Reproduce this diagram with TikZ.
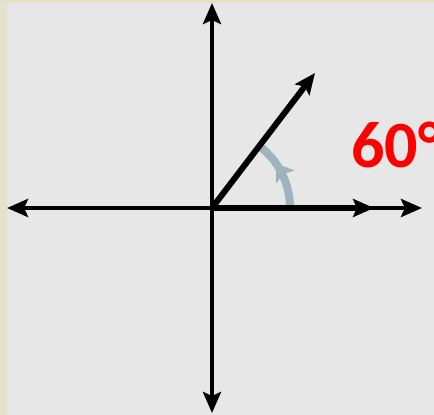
\documentclass[tikz,border=0pt]{standalone}
\usepackage{fontspec}
\setsansfont{Carlito}
\usepackage{xcolor}
\usetikzlibrary{arrows.meta,decorations.markings}
\definecolor{paper}{HTML}{E7E7E7}
\definecolor{rim}{HTML}{E4E0CB}
\definecolor{arcblue}{HTML}{9DB4BC}
\tikzset{
  axis/.style={line width=4.5pt, -{Stealth[length=21pt,width=18pt,inset=4pt]}},
  vec/.style={line width=6pt, -{Stealth[length=21pt,width=18pt,inset=4pt]}},
}

\begin{document}
\begin{tikzpicture}[x=1pt,y=1pt]
    % paper
    \fill[rim] (0,0) rectangle (434,415);
    \fill[paper] (7,0) rectangle (434,412);
    \useasboundingbox (0,0) rectangle (434,415);

    \coordinate (o) at (212,207);
    \coordinate (top) at (212,412);
    \coordinate (bottom) at (212,2);
    \coordinate (left) at (7,207);
    \coordinate (right) at (422,207);
    \coordinate (u) at (374,207);
    \coordinate (v) at (315,342);

    % axes
    \draw[axis] (o) -- (right);
    \draw[axis] (o) -- (left);
    \draw[axis] (o) -- (top);
    \draw[axis] (o) -- (bottom);

    % angle
    \draw[arcblue, line width=8pt,
      decoration={markings, mark=at position 0.66 with {\arrow{Stealth[length=16pt,width=22pt,inset=3pt]}}},
      postaction={decorate}] ([xshift=78pt]o) arc[start angle=0, end angle=52.7, radius=78pt];

    % vectors
    \draw[vec] (o) -- (u);
    \draw[vec] (o) -- (v);

    \node[anchor=base west, inner sep=0pt, text=red, font=\sffamily\bfseries\fontsize{66}{66}\selectfont] (lbl) at (351,247) {60°};
\end{tikzpicture}
\end{document}
